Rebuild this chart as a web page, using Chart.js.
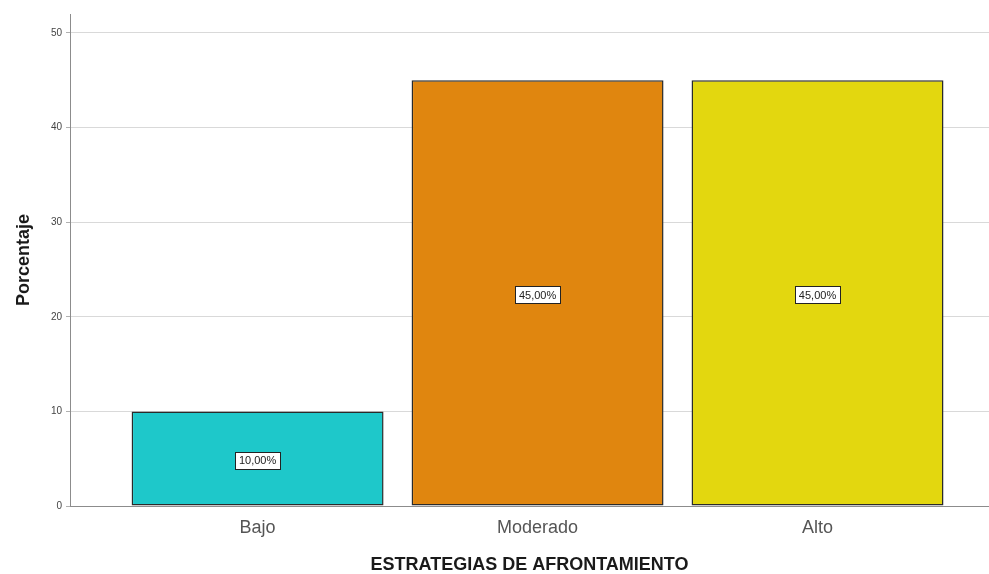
<!DOCTYPE html>
<html>
<head>
<meta charset="utf-8">
<script src="https://cdn.jsdelivr.net/npm/chart.js@4/dist/chart.umd.min.js"></script>
<style>
  html, body { margin: 0; padding: 0; background: #ffffff; }
  #wrap { width: 989px; height: 574px; position: relative; }
</style>
</head>
<body>
<div id="wrap"><canvas id="c" width="989" height="574"></canvas></div>
<script>
const categories = ['Bajo', 'Moderado', 'Alto'];
const percentages = [10, 45, 45];
const valueLabels = ['10,00%', '45,00%', '45,00%'];
const barColors = ['#1ec8ca', '#e0860f', '#e3d70f'];
const yTicks = [0, 10, 20, 30, 40, 50];

const FONT = '"Liberation Sans", Arial, sans-serif';

const points = categories.map((c, i) => ({ x: i + 1, y: percentages[i] }));

const labelPlugin = {
  id: 'valueBoxes',
  afterDatasetsDraw(chart) {
    const ctx = chart.ctx;
    const meta = chart.getDatasetMeta(0);
    ctx.save();
    ctx.font = '11px ' + FONT;
    ctx.textAlign = 'center';
    ctx.textBaseline = 'middle';
    meta.data.forEach((bar, i) => {
      const txt = valueLabels[i];
      const cx = bar.x;
      const cy = (bar.y + bar.base) / 2 + 2;
      const w = Math.round(ctx.measureText(txt).width + 8);
      const h = 17;
      const bx = Math.round(cx - w / 2) + 0.5;
      const by = Math.round(cy - h / 2) + 0.5;
      ctx.fillStyle = '#ffffff';
      ctx.fillRect(bx, by, w, h);
      ctx.strokeStyle = '#222222';
      ctx.lineWidth = 1;
      ctx.strokeRect(bx, by, w, h);
      ctx.fillStyle = '#222222';
      ctx.fillText(txt, cx, cy + 1);
    });
    ctx.restore();
  }
};

new Chart(document.getElementById('c'), {
  type: 'bar',
  data: {
    datasets: [{
      data: points,
      backgroundColor: barColors,
      borderColor: '#2a2a2a',
      borderWidth: 1.5,
      borderSkipped: false,
      categoryPercentage: 1.0,
      barPercentage: 0.9
    }]
  },
  options: {
    responsive: false,
    animation: false,
    devicePixelRatio: 1,
    layout: { padding: { top: 14, right: 0, left: 0, bottom: 0 } },
    plugins: {
      legend: { display: false },
      tooltip: { enabled: false }
    },
    scales: {
      x: {
        type: 'linear',
        offset: false,
        min: 0.33,
        max: 3.6125,
        afterBuildTicks: s => { s.ticks = categories.map((c, i) => ({ value: i + 1 })); },
        afterFit: s => { s.height = 68; },
        grid: { display: false, offset: false },
        border: { display: true, color: '#8c8c8c', width: 1 },
        ticks: {
          autoSkip: false,
          maxRotation: 0,
          padding: 3,
          color: '#555555',
          font: { family: FONT, size: 18 },
          callback: v => categories[v - 1] || ''
        },
        title: {
          display: true,
          text: 'ESTRATEGIAS DE AFRONTAMIENTO',
          color: '#1a1a1a',
          font: { family: FONT, size: 18, weight: 'bold', lineHeight: 1.0 },
          padding: { top: 17, bottom: 0 }
        }
      },
      y: {
        min: 0,
        max: 52,
        afterBuildTicks: s => { s.ticks = yTicks.map(v => ({ value: v })); },
        afterFit: s => { s.width = 70; },
        grid: {
          color: '#d9d9d9',
          lineWidth: 1,
          drawTicks: true,
          tickLength: 4,
          tickColor: '#b0b0b0'
        },
        border: { display: true, color: '#8c8c8c', width: 1 },
        ticks: {
          padding: 4,
          color: '#444444',
          font: { family: FONT, size: 10 }
        },
        title: {
          display: true,
          text: 'Porcentaje',
          color: '#1a1a1a',
          font: { family: FONT, size: 18, weight: 'bold' },
          padding: { top: 13, bottom: 0 }
        }
      }
    }
  },
  plugins: [labelPlugin]
});
</script>
</body>
</html>
